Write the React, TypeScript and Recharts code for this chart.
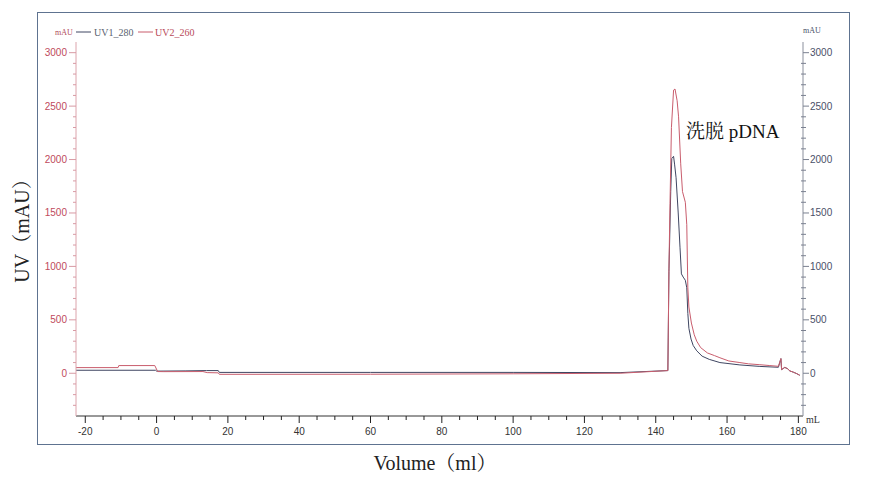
import { Line, LineChart, XAxis, YAxis } from 'recharts';

// UV1_280 trace (mL, mAU)
const uv1Volume = [
  -22.6, -0.3, 0, 8, 14, 17.3, 17.6, 60, 100, 130, 143.4, 143.5, 143.7, 144.2, 144.5, 145.0, 145.3,
  145.7, 146.3, 146.8, 147.2, 147.7, 148.3, 148.7, 149.0, 149.3, 149.9, 150.5, 151.5, 153.0, 155.0,
  158.0, 163.6, 169.2, 174.4, 175.1, 175.3, 176.2, 177.0, 177.6, 178.6, 179.5, 180.4,
];
const uv1Mau = [
  28, 28, 20, 22, 25, 25, 8, 8, 8, 6, 25, 330, 950, 1700, 2010, 2030, 1950,
  1830, 1500, 1180, 930, 900, 870, 800, 560, 420, 320, 260, 210, 160, 130,
  100, 78, 64, 56, 137, 34, 55, 42, 22, 10, -3, -19,
];

// UV2_260 trace (mL, mAU)
const uv2Volume = [
  -22.6, -10.8, -10.6, -0.5, 0.3, 2, 13, 14.2, 17.3, 17.6, 60, 100, 130, 143.4, 143.5, 143.7, 144.0,
  144.4, 145.0, 145.4, 146.0, 146.4, 147.0, 147.5, 148.3, 148.7, 149.0, 149.3, 150.0, 150.8, 151.5,
  152.6, 154.5, 156.5, 158.0, 160.5, 163.6, 166.0, 169.2, 172.0, 174.4, 175.1, 175.3, 176.2, 177.0,
  177.6, 178.6, 179.5, 180.4,
];
const uv2Mau = [
  53, 53, 72, 72, 16, 15, 16, 6, 4, -10, -9, -5, 0, 25, 340, 980, 1590,
  2300, 2650, 2660, 2550, 2400, 1960, 1700, 1600, 1390, 800, 620, 470, 360, 300,
  240, 190, 165, 145, 115, 100, 88, 80, 72, 65, 137, 34, 55, 42,
  22, 10, -3, -19,
];

// axis ticks: minor every 5 mL / 100 mAU, labelled every 20 mL / 500 mAU
const volumeTicks = Array.from({ length: 41 }, (_, i) => -20 + i * 5);
const mauTicks = Array.from({ length: 34 }, (_, i) => -300 + i * 100);

const uv1Data = uv1Volume.map((v, i) => ({ v, mau: uv1Mau[i] }));
const uv2Data = uv2Volume.map((v, i) => ({ v, mau: uv2Mau[i] }));

const RED = '#c95d6d';
const DARK = '#3f4662';
const tickFont = '"Liberation Sans", Arial, sans-serif';
const serif = '"Liberation Serif", "Noto Serif CJK SC", "Noto Sans CJK SC", serif';

function VolumeTick({ x, y, payload }: any) {
  const major = payload.value % 20 === 0;
  return (
    <g>
      <line x1={x} x2={x} y1={y} y2={y + (major ? 7 : 4)} stroke="#222" strokeWidth={1} />
      {major && (
        <text x={x} y={y + 19} textAnchor="middle" fontSize={10} fontFamily={tickFont} fill="#333">
          {payload.value}
        </text>
      )}
    </g>
  );
}

function LeftTick({ x, y, payload }: any) {
  const major = payload.value % 500 === 0;
  return (
    <g>
      <line x1={x} x2={x - (major ? 7 : 3)} y1={y} y2={y} stroke="#d89aa4" strokeWidth={1} />
      {major && (
        <text x={x - 9} y={y + 3.5} textAnchor="end" fontSize={10} fontFamily={tickFont} fill="#c04a5c">
          {payload.value}
        </text>
      )}
    </g>
  );
}

function RightTick({ x, y, payload }: any) {
  const major = payload.value % 500 === 0;
  return (
    <g>
      <line x1={major ? x : x - 2} x2={x + (major ? 6 : 3)} y1={y} y2={y} stroke="#7a8090" strokeWidth={1} />
      {major && (
        <text x={x + 7} y={y + 3.5} textAnchor="start" fontSize={10} fontFamily={tickFont} fill="#4a5068">
          {payload.value}
        </text>
      )}
    </g>
  );
}

export default function App() {
  return (
    <div style={{ position: 'absolute', left: 0, top: 0, width: 870, height: 489, background: '#fff' }}>
      <div
        style={{
          position: 'absolute',
          left: 37,
          top: 12,
          width: 813,
          height: 433,
          border: '1.5px solid #5e7390',
          boxSizing: 'border-box',
        }}
      />
      <div style={{ position: 'absolute', left: 0, top: 0 }}>
        <LineChart width={870} height={489} margin={{ top: 42, right: 27, bottom: 43, left: 36 }}>
          <XAxis
            dataKey="v"
            type="number"
            domain={[-22.6, 181.3]}
            allowDataOverflow
            ticks={volumeTicks}
            interval={0}
            height={30}
            tickLine={false}
            tickSize={0}
            tickMargin={0}
            tick={<VolumeTick />}
            axisLine={{ stroke: '#333' }}
          />
          <YAxis
            yAxisId="left"
            orientation="left"
            type="number"
            domain={[-400, 3100]}
            allowDataOverflow
            ticks={mauTicks}
            interval={0}
            width={40}
            tickLine={false}
            tickSize={0}
            tickMargin={0}
            tick={<LeftTick />}
            axisLine={{ stroke: '#dca4ac' }}
          />
          <YAxis
            yAxisId="right"
            orientation="right"
            type="number"
            domain={[-400, 3100]}
            allowDataOverflow
            ticks={mauTicks}
            interval={0}
            width={40}
            tickLine={false}
            tickSize={0}
            tickMargin={0}
            tick={<RightTick />}
            axisLine={{ stroke: '#8a8f9c' }}
          />
          <Line
            yAxisId="right"
            data={uv1Data}
            dataKey="mau"
            name="UV1_280"
            type="linear"
            stroke={DARK}
            strokeWidth={1}
            dot={false}
            isAnimationActive={false}
          />
          <Line
            yAxisId="left"
            data={uv2Data}
            dataKey="mau"
            name="UV2_260"
            type="linear"
            stroke={RED}
            strokeWidth={1}
            dot={false}
            isAnimationActive={false}
          />
        </LineChart>
      </div>
      <svg width={870} height={489} style={{ position: 'absolute', left: 0, top: 0, pointerEvents: 'none' }}>
        {/* legend */}
        <text x={55} y={35} fontSize={8} fontFamily={serif} fill="#b04a5a">mAU</text>
        <line x1={76} x2={91} y1={32} y2={32} stroke={DARK} strokeWidth={1} />
        <text x={94} y={35.5} fontSize={10} fontFamily={serif} fill="#5a5f70">UV1_280</text>
        <line x1={138} x2={153} y1={32} y2={32} stroke={RED} strokeWidth={1} />
        <text x={155} y={35.5} fontSize={10} fontFamily={serif} fill="#b84a5a">UV2_260</text>
        <text x={803} y={33} fontSize={8} fontFamily={serif} fill="#4a5068">mAU</text>
        <text x={806} y={423} fontSize={10} fontFamily={serif} fill="#333">mL</text>
        {/* annotation */}
        <text x={686} y={138} fontSize={19} fontFamily={serif} fill="#111">洗脱 pDNA</text>
        {/* axis titles */}
        <text x={435} y={470} textAnchor="middle" fontSize={20} fontFamily={serif} fill="#222">
          Volume（ml）
        </text>
        <text
          x={22}
          y={226}
          textAnchor="middle"
          dominantBaseline="central"
          fontSize={20}
          fontFamily={serif}
          fill="#222"
          transform="rotate(-90 22 226)"
        >
          UV（mAU）
        </text>
      </svg>
    </div>
  );
}
